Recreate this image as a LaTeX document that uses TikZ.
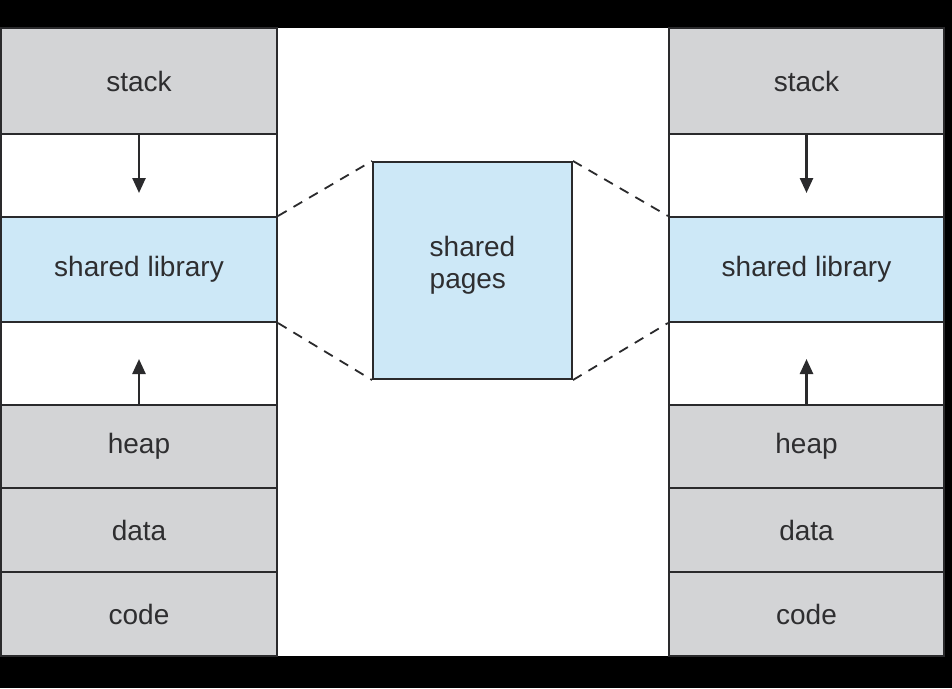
\documentclass[tikz,border=0pt]{standalone}
\usepackage{fontspec}
\setmainfont{Liberation Sans}
\usetikzlibrary{arrows.meta}
\definecolor{cellgray}{HTML}{D3D4D6}
\definecolor{cellblue}{HTML}{CDE8F7}
\definecolor{linecol}{HTML}{2A2A2C}
\definecolor{txtcol}{HTML}{2E2E30}
\begin{document}
\begin{tikzpicture}[x=1pt,y=-1pt,
  cell/.style={draw=linecol, line width=2pt, rectangle, inner sep=0pt, text=txtcol,
    font=\fontsize{28}{32}\selectfont},
  lbl/.style={text=txtcol, inner sep=0pt, font=\fontsize{28}{32}\selectfont},
  growarrow/.style={draw=linecol, line width=2.5pt, -{Triangle[length=15pt,width=13pt]}},
  dashline/.style={draw=linecol, line width=1.8pt, dash pattern=on 10pt off 8pt}]
\useasboundingbox (0,0) rectangle (952,688);
\fill[black] (0,0) rectangle (952,688);
\fill[white] (277,28) rectangle (669,656);
% left column
\node[cell, fill=cellgray, minimum width=276pt, minimum height=106pt] (Lstack) at (139,81) {stack};
\node[cell, fill=white, minimum width=276pt, minimum height=83pt] (Lgap1) at (139,175.5) {};
\node[cell, fill=cellblue, minimum width=276pt, minimum height=105pt] (Llib) at (139,269.5) {shared library};
\node[cell, fill=white, minimum width=276pt, minimum height=83pt] (Lgap2) at (139,363.5) {};
\node[cell, fill=cellgray, minimum width=276pt, minimum height=83pt] (Lheap) at (139,446.5) {heap};
\node[cell, fill=cellgray, minimum width=276pt, minimum height=84pt] (Ldata) at (139,530) {data};
\node[cell, fill=cellgray, minimum width=276pt, minimum height=84pt] (Lcode) at (139,614) {code};
% right column
\node[cell, fill=cellgray, minimum width=275pt, minimum height=106pt] (Rstack) at (806.5,81) {stack};
\node[cell, fill=white, minimum width=275pt, minimum height=83pt] (Rgap1) at (806.5,175.5) {};
\node[cell, fill=cellblue, minimum width=275pt, minimum height=105pt] (Rlib) at (806.5,269.5) {shared library};
\node[cell, fill=white, minimum width=275pt, minimum height=83pt] (Rgap2) at (806.5,363.5) {};
\node[cell, fill=cellgray, minimum width=275pt, minimum height=83pt] (Rheap) at (806.5,446.5) {heap};
\node[cell, fill=cellgray, minimum width=275pt, minimum height=84pt] (Rdata) at (806.5,530) {data};
\node[cell, fill=cellgray, minimum width=275pt, minimum height=84pt] (Rcode) at (806.5,614) {code};
% shared pages
\node[cell, fill=cellblue, minimum width=199pt, minimum height=217pt] (pages) at (472.5,270.5) {};
\node[lbl, align=left] (pagestxt) at ([yshift=5pt]pages.center) {shared\\pages};
% arrows
\coordinate (La) at (139,193);
\coordinate (Lb) at (139,359);
\coordinate (Ra) at (806.5,193);
\coordinate (Rb) at (806.5,359);
\draw[growarrow] (Lstack.south) -- (La);
\draw[growarrow] (Lheap.north) -- (Lb);
\draw[growarrow] (Rstack.south) -- (Ra);
\draw[growarrow] (Rheap.north) -- (Rb);
% dashed connectors
\draw[dashline] (Llib.north east) -- (pages.north west);
\draw[dashline] (Llib.south east) -- (pages.south west);
\draw[dashline] (pages.north east) -- (Rlib.north west);
\draw[dashline] (pages.south east) -- (Rlib.south west);
\end{tikzpicture}
\end{document}
